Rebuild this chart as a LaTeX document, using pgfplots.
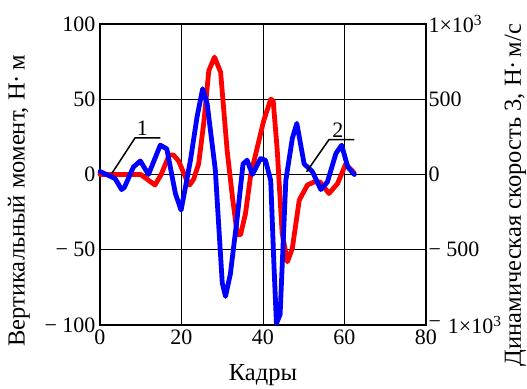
\documentclass[border=0pt]{standalone}
\usepackage{fontspec}
\setmainfont{Liberation Serif}
\usepackage{pgfplots}
\pgfplotsset{compat=1.18}
\begin{document}
\begin{tikzpicture}
\pgfplotsset{
  every axis/.append style={font=\fontsize{22}{26}\selectfont},
}
\begin{axis}[
  at={(0,0)}, anchor=south west,
  scale only axis, width=326pt, height=301pt,
  xmin=0, xmax=80, ymin=-100, ymax=100,
  xtick={0,20,40,60,80},
  ytick={-100,-50,0,50,100},
  yticklabels={− 100,− 50,0,50,100},
  /pgf/number format/assume math mode=true,
  grid=major,
  major grid style={black, line width=0.6pt},
  axis line style={black, line width=1.3pt},
  major tick length=0pt,
  xticklabel style={yshift=-1pt},
  yticklabel style={xshift=-1pt},
  clip=false,
]
\addplot[red, line width=4.8pt, line join=round, line cap=round] coordinates {
(0,0) (10,0) (12,-4) (13.5,-7) (15,0) (17,13) (18,13) (19.3,9) (21,-2) (22,-7)
(23,-3) (24.2,7) (25.5,35) (26.7,69) (28.1,78) (29.6,68) (31.2,16) (32.5,-15)
(33.7,-40) (34.5,-40) (35.7,-26) (37,0) (38.6,18) (40.2,36) (41.9,50) (42.5,49)
(43.5,16) (44.7,-39) (46,-58) (47.2,-49) (48.9,-17) (50.9,-7) (52.5,-5) (54,-5)
(56.2,-12.6) (58.3,-6) (60.3,7) (62.4,1)
};
\node[rotate=90, anchor=base, inner sep=0pt, font=\fontsize{24.5}{29}\selectfont] at (axis description cs:-0.231,0.412) {Вертикальный момент, Н·\,м};
\node[anchor=base, inner sep=0pt, font=\fontsize{24.5}{29}\selectfont] at (axis description cs:0.5,-0.183) {Кадры};
\end{axis}
\begin{axis}[
  at={(0,0)}, anchor=south west,
  scale only axis, width=326pt, height=301pt,
  xmin=0, xmax=80, ymin=-1000, ymax=1000,
  axis x line=none,
  axis y line*=right,
  axis line style={black, line width=1.3pt},
  ytick={-1000,-500,0,500,1000},
  yticklabels={\raisebox{5pt}{−}\hspace{7pt}1×10\textsuperscript{3},− 500,0,500,1×10\textsuperscript{3}},
  /pgf/number format/assume math mode=true,
  tick align=inside,
  major tick length=10pt,
  tick style={black, line width=1.3pt},
  yticklabel style={xshift=-1pt},
  clip=false,
]
\addplot[blue, line width=4.8pt, line join=round, line cap=round] coordinates {
(0,20) (3.7,-27) (5.3,-100) (6,-85) (8.2,50) (9.9,90) (11.9,0) (14.8,195)
(16.4,170) (18.5,-126) (19.9,-237) (22.2,95) (23.8,380) (25.2,570) (26.3,470)
(28.3,30) (30,-720) (30.8,-810) (32,-660) (33.7,-280) (35.1,70) (36.1,95)
(37.4,0) (39.4,106) (40.6,95) (41.9,-40) (42.7,-610) (43.3,-990) (44.2,-930)
(45.6,-40) (47.2,240) (48.3,340) (50.1,70) (52.1,20) (54.2,-100) (55.8,-50)
(57.9,140) (59.3,195) (60.8,50) (62.4,0)
};
\draw[black, line width=1.5pt] (axis cs:2.9,7) -- (axis cs:8.6,243) -- (axis cs:14.8,243);
\node[anchor=south, inner sep=1pt] at (axis cs:10.4,250) {1};
\draw[black, line width=1.5pt] (axis cs:50.7,18) -- (axis cs:56.2,232) -- (axis cs:62.4,232);
\node[anchor=south, inner sep=1pt] at (axis cs:58.4,240) {2};
\node[rotate=90, anchor=base, inner sep=0pt, font=\fontsize{24.5}{29}\selectfont] at (axis description cs:1.291,0.432) {Динамическая скорость 3, Н·\,м/с};
\end{axis}
\pgfresetboundingbox
\path[use as bounding box] (-100pt,-63pt) rectangle (427pt,325pt);
\end{tikzpicture}
\end{document}
